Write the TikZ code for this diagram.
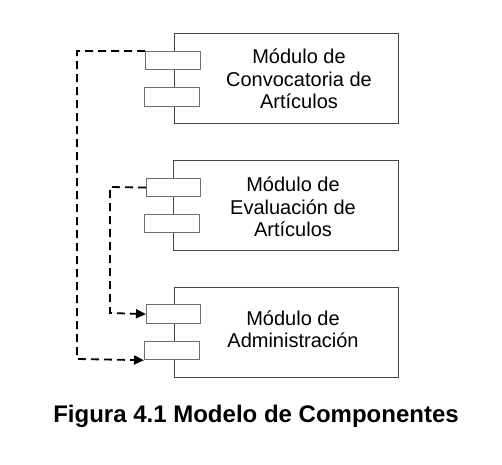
\documentclass[tikz,border=0pt]{standalone}
\usepackage{fontspec}
\setmainfont{Liberation Sans}
\usetikzlibrary{arrows.meta}
\definecolor{boxgray}{RGB}{70,70,70}
\definecolor{portgray}{RGB}{110,110,110}
\tikzset{
  comp/.style={draw=boxgray, line width=1.4pt, fill=white, inner sep=0pt, anchor=north west},
  port/.style={draw=portgray, line width=1.2pt, fill=white, inner sep=0pt, anchor=north west},
  lbl/.style={align=center, font=\fontsize{20}{22.5}\selectfont, inner sep=0pt},
  dep/.style={line width=1.8pt, dash pattern=on 8pt off 5pt, -{Triangle[length=10pt,width=9pt]}},
  depnotip/.style={line width=1.8pt, dash pattern=on 8pt off 5pt}
}
\begin{document}
\begin{tikzpicture}[x=1pt,y=-1pt]
\useasboundingbox (0,0) rectangle (502,464);
% components
\node[comp, minimum width=224pt, minimum height=90pt] (c1) at (174,33) {};
\node[comp, minimum width=225pt, minimum height=90pt] (c2) at (173,160) {};
\node[comp, minimum width=224pt, minimum height=90pt] (c3) at (174,287) {};
% ports
\node[port, minimum width=55pt, minimum height=18pt] (c1p1) at (145,51) {};
\node[port, minimum width=55pt, minimum height=19pt] (c1p2) at (144,87) {};
\node[port, minimum width=54pt, minimum height=18pt] (c2p1) at (146,178) {};
\node[port, minimum width=55pt, minimum height=18pt] (c2p2) at (144,214) {};
\node[port, minimum width=54pt, minimum height=19pt] (c3p1) at (146,304) {};
\node[port, minimum width=55pt, minimum height=18pt] (c3p2) at (144,341) {};
% labels
\node[lbl] (t1) at (299,79) {Módulo de\\Convocatoria de\\Artículos};
\node[lbl] (t2) at (293,207) {Módulo de\\Evaluación de\\Artículos};
\node[lbl] (t3) at (293,329) {Módulo de\\Administración};
% connectors
\coordinate (k1) at (77,51);
\coordinate (k2) at (77,359);
\coordinate (k3) at (110,187);
\coordinate (k4) at (110,313);
\draw[dep] (c1p1.north west) -- (k1) -- (k2) -- (c3p2.south west);
\draw[dep] (c2p1.west) -- (k3) -- (k4) -- (c3p1.west);
% caption
\node[font=\bfseries\fontsize{24}{28}\selectfont, inner sep=0pt] (cap) at (256,416) {Figura 4.1 Modelo de Componentes};
\end{tikzpicture}
\end{document}
